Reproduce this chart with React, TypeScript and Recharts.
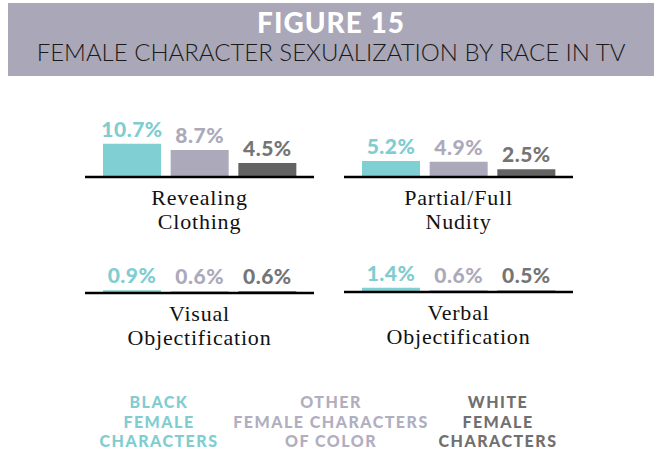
import { BarChart, Bar, XAxis, YAxis, Cell, LabelList } from "recharts";

const races = [
  "Black Female Characters",
  "Other Female Characters of Color",
  "White Female Characters",
];
const revealingClothing = [10.7, 8.7, 4.5];
const partialFullNudity = [5.2, 4.9, 2.5];
const visualObjectification = [0.9, 0.6, 0.6];
const verbalObjectification = [1.4, 0.6, 0.5];
const categoryLines = [
  ["Revealing", "Clothing"],
  ["Partial/Full", "Nudity"],
  ["Visual", "Objectification"],
  ["Verbal", "Objectification"],
];
const legendLines = [
  ["BLACK", "FEMALE", "CHARACTERS"],
  ["OTHER", "FEMALE CHARACTERS", "OF COLOR"],
  ["WHITE", "FEMALE", "CHARACTERS"],
];

const barColors = ["#80cfd3", "#aba9ba", "#636363"];
const labelColors = ["#7fcdd1", "#acaaba", "#757575"];
const legendColors = ["#80cdd1", "#b0aec0", "#707070"];

const CategoryLabel = ({ viewBox, lines }: any) => {
  const cx = viewBox.x + viewBox.width / 2;
  return (
    <text
      textAnchor="middle"
      fontFamily="'Liberation Serif', serif"
      fontSize={22}
      letterSpacing={0.8}
      fill="#111">
      {lines.map((l: string, i: number) => (
        <tspan key={l} x={cx} y={viewBox.y + 28 + i * 24}>
          {l}
        </tspan>
      ))}
    </text>
  );
};

const ValueLabel = (props: any) => {
  const { x, y, width, value, index } = props;
  return (
    <text
      x={x + width / 2}
      y={y - 7}
      textAnchor="middle"
      fontFamily="Lato, sans-serif"
      fontWeight={900}
      fontSize={21}
      letterSpacing={0.5}
      fill={labelColors[index]}>
      {value.toFixed(1)}%
    </text>
  );
};

const Panel = ({ values, lines, left, top }: any) => {
  const data = races.map((r, i) => ({ race: r, value: values[i] }));
  return (
    <div style={{ position: "absolute", left, top }}>
      <BarChart
        width={229}
        height={152}
        data={data}
        margin={{ top: 30, right: 0, bottom: 0, left: 0 }}>
        <YAxis hide domain={[0, 20]} />
        <XAxis
          dataKey="race"
          height={60}
          tick={false}
          tickLine={false}
          padding={{ left: 13, right: 13 }}
          axisLine={{ stroke: "#000", strokeWidth: 2.5 }}
          label={<CategoryLabel lines={lines} />}
        />
        <Bar dataKey="value" barSize={58} isAnimationActive={false}>
          {data.map((d, i) => (
            <Cell key={d.race} fill={barColors[i]} />
          ))}
          <LabelList dataKey="value" content={<ValueLabel />} />
        </Bar>
      </BarChart>
    </div>
  );
};

export default function App() {
  return (
    <div
      style={{
        position: "absolute",
        left: 0,
        top: 0,
        width: 661,
        height: 449,
        background: "#fff",
        overflow: "hidden",
      }}>
      <div
        style={{
          position: "absolute",
          left: 8,
          top: 3,
          width: 646,
          height: 73,
          background: "#a9a7b8",
          textAlign: "center",
          fontFamily: "Lato, sans-serif",
        }}>
        <div
          style={{
            position: "absolute",
            left: 0,
            right: 0,
            top: 2,
            color: "#fff",
            fontWeight: 900,
            fontSize: 28,
            letterSpacing: 1,
            lineHeight: "34px",
          }}>
          FIGURE 15
        </div>
        <div
          style={{
            position: "absolute",
            left: 0,
            right: 0,
            top: 34,
            color: "#1a1a1a",
            fontWeight: 300,
            fontSize: 24,
            lineHeight: "30px",
          }}>
          FEMALE CHARACTER SEXUALIZATION BY RACE IN TV
        </div>
      </div>

      <Panel values={revealingClothing} lines={categoryLines[0]} left={85} top={85} />
      <Panel values={partialFullNudity} lines={categoryLines[1]} left={344} top={85} />
      <Panel values={visualObjectification} lines={categoryLines[2]} left={85} top={201} />
      <Panel values={verbalObjectification} lines={categoryLines[3]} left={344} top={200} />

      {legendLines.map((ls, i) => (
        <div
          key={ls.join(" ")}
          style={{
            position: "absolute",
            left: [159, 331, 498][i] - 110,
            width: 220,
            top: 392,
            textAlign: "center",
            fontFamily: "Lato, sans-serif",
            fontWeight: 900,
            fontSize: 16,
            letterSpacing: 1.5,
            lineHeight: "19.5px",
            color: legendColors[i],
          }}>
          {ls.map((l) => (
            <div key={l}>{l}</div>
          ))}
        </div>
      ))}
    </div>
  );
}
